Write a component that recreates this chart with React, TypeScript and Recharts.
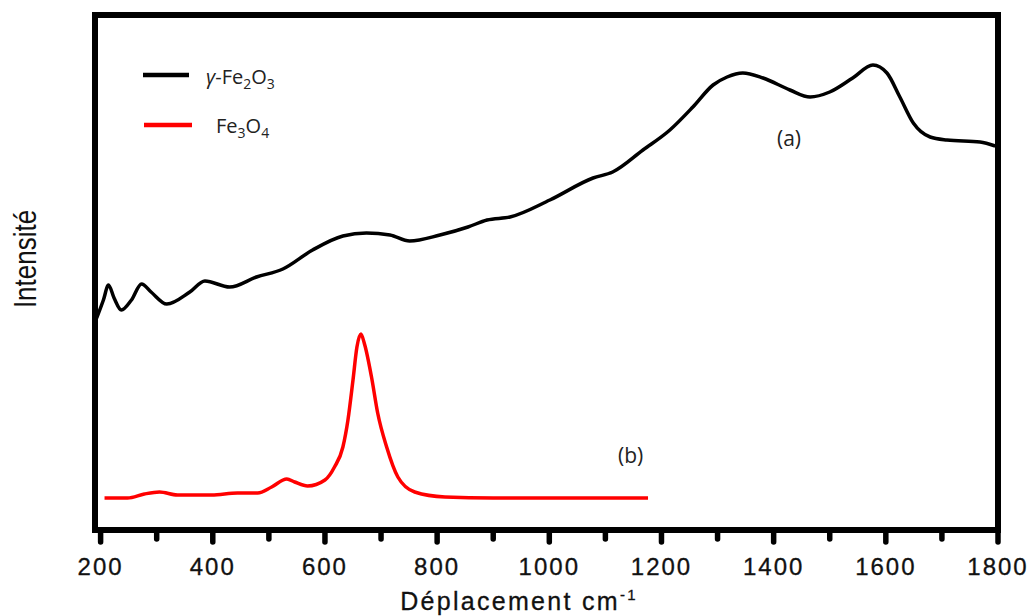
import { LineChart, Line, XAxis, YAxis, ReferenceArea } from 'recharts';

// gamma-Fe2O3 spectrum (a)
const gammaShift = [193, 205, 214, 224, 237, 255, 273, 290, 318, 359, 386, 430, 478, 525, 578, 632, 674, 716, 751, 805, 855, 889, 930, 1001, 1078, 1113, 1167, 1215, 1256, 1292, 1317, 1345, 1381, 1429, 1465, 1500, 1541, 1577, 1602, 1625, 1649, 1679, 1709, 1768, 1795];
const gammaIntensity = [212, 230, 245, 232, 220, 230, 246, 238, 226, 238, 249, 243, 253, 261, 280, 294, 297, 295, 289, 295, 303, 310, 313, 330, 352, 358, 380, 400, 423, 445, 453, 457, 452, 440, 433, 438, 452, 465, 457, 433, 407, 393, 390, 388, 384];

// Fe3O4 spectrum (b)
const magShift = [207, 248, 278, 305, 337, 398, 444, 480, 505, 532, 546, 569, 600, 617, 632, 641, 650, 657, 664, 671, 683, 694, 710, 730, 760, 814, 900, 1000, 1100, 1176];
const magIntensity = [32, 32, 36, 38, 35, 35, 37, 37, 43, 51, 48, 44, 50, 63, 83, 110, 150, 183, 196, 185, 153, 117, 83, 53, 38, 33, 32, 32, 32, 32];

const xTicks = [200, 300, 400, 500, 600, 700, 800, 900, 1000, 1100, 1200, 1300, 1400, 1500, 1600, 1700, 1800];

const gammaData = gammaShift.map((w, i) => ({ w, v: gammaIntensity[i] }));
const magData = magShift.map((w, i) => ({ w, v: magIntensity[i] }));

const labelFont = '"Open Sans", "Noto Sans", sans-serif';
const axisFont = '"Liberation Sans", Arial, sans-serif';

const AxisTick = ({ x, y, payload }: any) => {
  const major = payload.value % 200 === 0;
  return (
    <g>
      <line x1={x} x2={x} y1={y} y2={y + (major ? 12 : 9)} stroke="#000" strokeWidth={5.5} strokeLinecap="round" />
      {major && (
        <text x={x} y={y + 45} textAnchor="middle" fontFamily={axisFont} fontSize={24} letterSpacing={2} fill="#111" stroke="#111" strokeWidth={0.3}>
          {payload.value}
        </text>
      )}
    </g>
  );
};

export default function App() {
  return (
    <div style={{ position: 'absolute', left: 0, top: 0, width: 1035, height: 616, background: '#fff' }}>
      <LineChart width={1035} height={616} margin={{ top: 15, right: 37, bottom: 46, left: 95 }}>
        <XAxis
          dataKey="w"
          type="number"
          domain={[190, 1800]}
          ticks={xTicks}
          allowDataOverflow
          axisLine={false}
          tickLine={false}
          tickSize={0}
          tickMargin={0}
          height={40}
          tick={<AxisTick />}
          interval={0}
        />
        <YAxis type="number" domain={[0, 515]} hide allowDataOverflow />
        <ReferenceArea x1={190} x2={1800} y1={0} y2={515} fill="none" stroke="#000" strokeWidth={6} ifOverflow="extendDomain" />
        <Line data={gammaData} dataKey="v" type="monotone" stroke="#000" strokeWidth={3.5} dot={false} isAnimationActive={false} />
        <Line data={magData} dataKey="v" type="monotone" stroke="#ff0000" strokeWidth={3.5} dot={false} isAnimationActive={false} />
      </LineChart>
      <svg width={1035} height={616} style={{ position: 'absolute', left: 0, top: 0, pointerEvents: 'none' }}>
        <line x1={143} x2={189} y1={75} y2={75} stroke="#000" strokeWidth={4.5} />
        <text x={206} y={84} fontFamily={labelFont} fontSize={20} fill="#222">
          <tspan fontStyle="italic">γ</tspan>-Fe<tspan dy={5} fontSize={14}>2</tspan><tspan dy={-5}>O</tspan><tspan dy={5} fontSize={14}>3</tspan>
        </text>
        <line x1={144} x2={192} y1={125} y2={125} stroke="#ff0000" strokeWidth={4.5} />
        <text x={216} y={133} fontFamily={labelFont} fontSize={20} fill="#222">
          Fe<tspan dy={5} fontSize={14}>3</tspan><tspan dy={-5}>O</tspan><tspan dy={5} fontSize={14}>4</tspan>
        </text>
        <text x={777} y={146} fontFamily={labelFont} fontSize={21} fill="#222">(a)</text>
        <text x={618} y={463} fontFamily={labelFont} fontSize={21} fill="#222">(b)</text>
        <text x={519} y={610} textAnchor="middle" fontFamily={axisFont} fontSize={25} letterSpacing={2.3} fill="#111" stroke="#111" strokeWidth={0.3}>
          Déplacement cm<tspan dy={-10} fontSize={15}>-1</tspan>
        </text>
        <text x={0} y={0} transform="translate(36 259) rotate(-90) scale(1.0 1.18)" textAnchor="middle" fontFamily={axisFont} fontSize={26} fill="#111">
          Intensité
        </text>
      </svg>
    </div>
  );
}
